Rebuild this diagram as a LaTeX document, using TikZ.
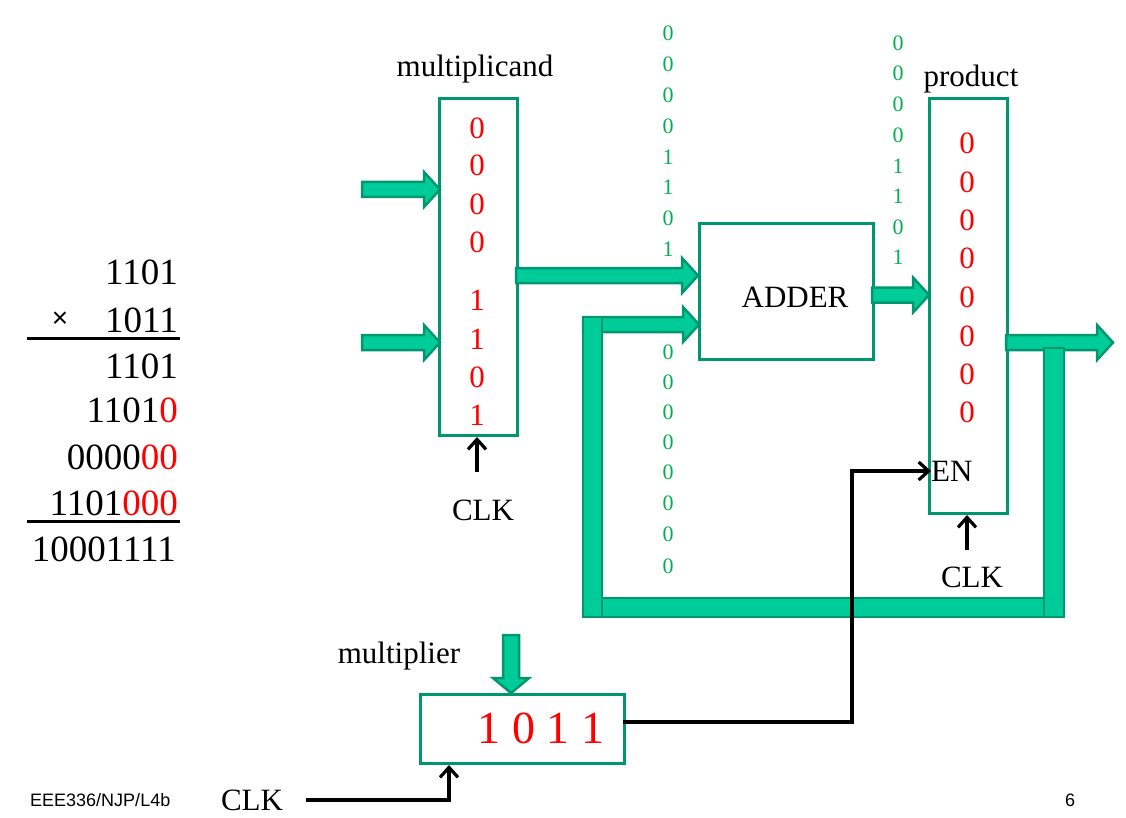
\documentclass[tikz,border=0pt]{standalone}
\usepackage{fontspec}
\setmainfont{Liberation Serif}
\newfontfamily\footfont{Liberation Sans}
\usetikzlibrary{arrows.meta}
\definecolor{gfill}{RGB}{0,204,153}
\definecolor{gline}{RGB}{0,150,112}
\definecolor{bitgreen}{RGB}{0,176,80}
\definecolor{bitred}{RGB}{255,0,0}
\tikzset{
  reg/.style={draw=gline, line width=3pt, fill=white, inner sep=0pt, anchor=north west},
  fat/.style={fill=gfill, draw=gline, line width=2.5pt, line join=miter},
  sig/.style={draw=black, line width=3.2pt, -{Straight Barb[length=10pt,width=18pt]}},
  lab/.style={font=\fontsize{31}{31}\selectfont, inner sep=0pt},
  rbit/.style={font=\fontsize{31}{31}\selectfont, inner sep=0pt, text=bitred},
  gbit/.style={font=\fontsize{22}{22}\selectfont, inner sep=0pt, text=bitgreen},
  calc/.style={font=\fontsize{37}{37}\selectfont, inner sep=0pt, anchor=east},
  foot/.style={font=\footfont\fontsize{18}{18}\selectfont, inner sep=0pt},
}
\newcommand\fatR[3]{\draw[fat] (#1,{#3-7.5}) -- ({#2-16},{#3-7.5}) -- ({#2-16},{#3-17.5}) -- (#2,#3) -- ({#2-16},{#3+17.5}) -- ({#2-16},{#3+7.5}) -- (#1,{#3+7.5}) -- cycle;}
\begin{document}
\begin{tikzpicture}[x=1pt,y=-1pt]
\useasboundingbox (0,0) rectangle (1126,818);

% registers
\node[reg, minimum width=78pt, minimum height=337pt] (mcand) at (438,97) {};
\node[reg, minimum width=174pt, minimum height=136pt] (adder) at (698,222) {};
\node[reg, minimum width=78pt, minimum height=415pt] (prod) at (928,97) {};
\node[reg, minimum width=204pt, minimum height=69pt] (mult) at (419,693) {};

% labels
\node[lab, anchor=base] (lmcand) at (475,77) {multiplicand};
\node[lab, anchor=base] (lprod) at (971,87) {product};
\node[lab, anchor=base] (lmult) at (399,663) {multiplier};
\node[lab] (tadder) at (795,297) {ADDER};
\node[font=\fontsize{46}{46}\selectfont, inner sep=0pt, text=bitred] (mval) at (541,728) {1 0 1 1};

% multiplicand bits
\foreach \v/\y [count=\i] in {0/128,0/165,0/204,0/242,1/300,1/339,0/377,1/415}
  \node[rbit] (md\i) at (477,\y) {\v};
% product bits
\foreach \y [count=\i] in {143,182,220,258,297,336,374,412}
  \node[rbit] (pd\i) at (967,\y) {0};
% green bit columns
\foreach \v/\y [count=\i] in {0/33,0/64,0/95,0/126,1/157,1/187,0/218,1/249}
  \node[gbit] (ga\i) at (668,\y) {\v};
\foreach \y [count=\i] in {352,382,412,442,472,503,534,566}
  \node[gbit] (gb\i) at (668,\y) {0};
\foreach \v/\y [count=\i] in {0/43,0/73,0/104,0/135,1/166,1/196,0/227,1/257}
  \node[gbit] (gc\i) at (898,\y) {\v};

% fat arrows
\fatR{362}{440}{189.5}
\fatR{362}{440}{342.5}
\fatR{516}{698}{275.5}
\fatR{583}{699}{324.5}
\fatR{872}{929}{295}
\fatR{1006}{1113}{342.5}
\draw[fat] (503,635) -- (503,678) -- (493,678) -- (511,693) -- (529,678) -- (519,678) -- (519,635) -- cycle;
% feedback bars
\draw[fat] (583,598) rectangle (1064,617);
\draw[fat] (583,317) rectangle (602,617);
\draw[fat] (1044,348) rectangle (1064,617);

% EN and clocks
\node[lab, anchor=west] (en) at (931,471) {EN};
\coordinate (m1) at (623,722);
\draw[sig] (m1) -- (852,722) |- (en.west);

\node[lab] (clk1) at (483,510) {CLK};
\coordinate (c1) at (477,472);
\draw[sig] (c1) -- (c1 |- mcand.south);

\node[lab] (clk2) at (972,577) {CLK};
\coordinate (c2) at (967,550);
\draw[sig] (c2) -- (c2 |- prod.south);

\node[lab] (clk3) at (252,800) {CLK};
\coordinate (c3) at (306,800);
\draw[sig] (c3) -| ([xshift=30pt]mult.south west);

% long multiplication
\node[calc] (r1) at (178,272) {1101};
\node[calc] (r2) at (178,320) {1011};
\node[font=\footfont\fontsize{28}{28}\selectfont, inner sep=0pt] (times) at (60,320) {×};
\draw[line width=3pt] (27,338) -- (180,338);
\node[calc] (r3) at (178,366) {1101};
\node[calc] (r4) at (178,410) {1101\textcolor{bitred}{0}};
\node[calc] (r5) at (178,457) {0000\textcolor{bitred}{00}};
\node[calc] (r6) at (178,503) {1101\textcolor{bitred}{000}};
\draw[line width=3pt] (27,521) -- (180,521);
\node[calc] (r7) at (176,549) {10001111};

% footer
\node[foot, anchor=west] (ft) at (30,800) {EEE336/NJP/L4b};
\node[foot] (pg) at (1070,800) {6};
\end{tikzpicture}
\end{document}
